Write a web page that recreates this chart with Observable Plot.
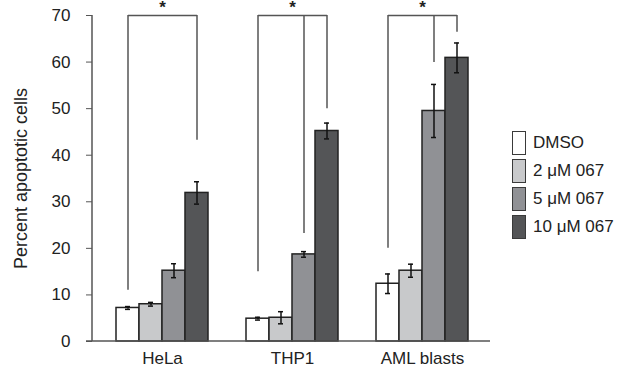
<!DOCTYPE html>
<html><head><meta charset="utf-8">
<script src="https://cdn.jsdelivr.net/npm/d3@7"></script>
<script src="https://cdn.jsdelivr.net/npm/@observablehq/plot@0.6"></script>
<style>
body{margin:0;background:#fff;font-family:"Liberation Sans",Arial,sans-serif;}
#wrap{position:relative;width:618px;height:372px;overflow:hidden;}
#legend{position:absolute;left:512px;top:131px;}
.item{display:flex;align-items:center;height:24px;margin-bottom:4px;font-size:17px;color:#222;}
.sw{box-sizing:border-box;width:14px;height:24px;border:1.5px solid #3a3a3a;margin-right:7px;}
</style></head><body><div id="wrap"><div id="legend"></div></div>
<script>
const groups = ["HeLa", "THP1", "AML blasts"];
const treatments = ["DMSO", "2 μM 067", "5 μM 067", "10 μM 067"];
const colors = ["#ffffff", "#c8c9cb", "#909195", "#545557"];
const meansHeLa = [7.2, 8.0, 15.2, 31.9];
const meansTHP1 = [4.9, 5.1, 18.7, 45.2];
const meansAML = [12.4, 15.2, 49.5, 60.9];
const errHeLa = [0.3, 0.4, 1.5, 2.4];
const errTHP1 = [0.3, 1.3, 0.6, 1.7];
const errAML = [2.1, 1.4, 5.7, 3.2];
// significance brackets: which bars, and where each leg starts
const bracketHeLa = {treat: ["DMSO", "10 μM 067"], from: [11.0, 43.2]};
const bracketTHP1 = {treat: ["DMSO", "5 μM 067", "10 μM 067"], from: [15.0, 23.2, 50.0]};
const bracketAML = {treat: ["DMSO", "5 μM 067", "10 μM 067"], from: [20.0, 59.9, 66.4]};
const bracketTop = 70;
const yTicks = [0, 10, 20, 30, 40, 50, 60, 70];

const meansAll = [meansHeLa, meansTHP1, meansAML];
const errAll = [errHeLa, errTHP1, errAML];
const bars = [];
groups.forEach((g, gi) => treatments.forEach((t, ti) => bars.push({group: g, treat: t, value: meansAll[gi][ti], err: errAll[gi][ti]})));
const legs = [];
const spans = [];
[bracketHeLa, bracketTHP1, bracketAML].forEach((b, gi) => {
  b.treat.forEach((t, i) => legs.push({group: groups[gi], treat: t, from: b.from[i], to: bracketTop}));
  spans.push({group: groups[gi], t1: b.treat[0], t2: b.treat[b.treat.length - 1], y: bracketTop});
});

const chart = Plot.plot({
  width: 618,
  height: 372,
  marginLeft: 115,
  marginRight: 149,
  marginTop: 15,
  marginBottom: 31,
  style: {fontFamily: "Liberation Sans, Arial, sans-serif", fontSize: "17px", color: "#222", background: "transparent", overflow: "visible"},
  fx: {domain: groups, paddingInner: 36 / 130, paddingOuter: 0, label: null},
  x: {domain: treatments, padding: 0, axis: null},
  y: {domain: [0, 70], ticks: yTicks, label: "Percent apoptotic cells"},
  color: {domain: treatments, range: colors},
  marks: [
    Plot.axisY({ticks: yTicks, tickSize: 6, tickPadding: 16, dx: -23, stroke: "#555", fill: "#222", fontSize: 17, label: null}),
    Plot.axisY({ticks: [], tickSize: 0, dx: -23, fontSize: 18, fill: "#222",
      label: "Percent apoptotic cells", labelAnchor: "center", labelArrow: "none", labelOffset: 101}),
    Plot.axisFx({anchor: "bottom", tickSize: 0, tickPadding: 10, fontSize: 17, fill: "#222", label: null}),
    Plot.ruleX(legs, {fx: "group", x: "treat", y1: "from", y2: "to", stroke: "#555", strokeWidth: 1.5}),
    Plot.link(spans, {fx: "group", x1: "t1", x2: "t2", y1: "y", y2: "y", stroke: "#555", strokeWidth: 1.5}),
    Plot.text(spans, {fx: "group", y: "y", text: () => "*", dy: -8, fontSize: 17, fontWeight: "bold", fill: "#222"}),
    Plot.barY(bars, {fx: "group", x: "treat", y: "value", fill: "treat", stroke: "#222", strokeWidth: 1.5}),
    Plot.ruleX(bars, {fx: "group", x: "treat", y1: d => d.value - d.err, y2: d => d.value + d.err, stroke: "#111", strokeWidth: 1.5}),
    Plot.tickY(bars, {fx: "group", x: "treat", y: d => d.value - d.err, stroke: "#111", strokeWidth: 1.5, insetLeft: 9, insetRight: 9}),
    Plot.tickY(bars, {fx: "group", x: "treat", y: d => d.value + d.err, stroke: "#111", strokeWidth: 1.5, insetLeft: 9, insetRight: 9})
  ]
});
document.getElementById("wrap").prepend(chart);

// axis domain lines, positioned from the chart's scales
const ys = chart.scale("y"), fxs = chart.scale("fx");
const y0 = ys.apply(0), yTop = ys.apply(70);
const xLeft = fxs.range[0] - 23, xRight = fxs.range[1] + 21;
const svg = d3.select(chart.tagName.toLowerCase() === "svg" ? chart : chart.querySelector("svg"));
svg.append("line").attr("x1", xLeft).attr("x2", xLeft).attr("y1", yTop).attr("y2", y0).attr("stroke", "#555").attr("stroke-width", 1.5);
svg.append("line").attr("x1", xLeft - 6).attr("x2", xRight).attr("y1", y0).attr("y2", y0).attr("stroke", "#555").attr("stroke-width", 1.5);

const legend = d3.select("#legend");
treatments.forEach((t, i) => {
  const item = legend.append("div").attr("class", "item");
  item.append("div").attr("class", "sw").style("background", colors[i]);
  item.append("span").text(t);
});
</script></body></html>
